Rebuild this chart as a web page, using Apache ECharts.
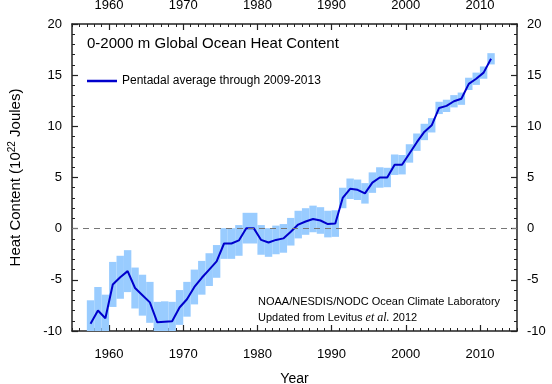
<!DOCTYPE html>
<html><head><meta charset="utf-8">
<script src="https://cdn.jsdelivr.net/npm/echarts@6/dist/echarts.min.js"></script>
<style>html,body{margin:0;padding:0;background:#fff}#c{width:552px;height:384px}</style>
</head><body><div id="c"></div>
<script>
var years = [1957.5,1958.5,1959.5,1960.5,1961.5,1962.5,1963.5,1964.5,1965.5,1966.5,1967.5,1968.5,1969.5,1970.5,1971.5,1972.5,1973.5,1974.5,1975.5,1976.5,1977.5,1978.5,1979.5,1980.5,1981.5,1982.5,1983.5,1984.5,1985.5,1986.5,1987.5,1988.5,1989.5,1990.5,1991.5,1992.5,1993.5,1994.5,1995.5,1996.5,1997.5,1998.5,1999.5,2000.5,2001.5,2002.5,2003.5,2004.5,2005.5,2006.5,2007.5,2008.5,2009.5,2010.5,2011.5];
var heat = [-9.3,-8.0,-8.75,-5.45,-4.75,-4.15,-5.8,-6.5,-7.2,-9.15,-9.1,-9.05,-7.7,-6.9,-5.7,-4.8,-4.0,-3.2,-1.45,-1.45,-1.15,0.05,0.05,-1.1,-1.35,-1.1,-0.95,-0.3,0.4,0.7,0.95,0.8,0.45,0.5,3.0,3.9,3.8,3.45,4.5,5.0,5.0,6.25,6.25,7.35,8.45,9.45,10.1,11.8,12.0,12.45,12.7,14.15,14.65,15.25,16.6];
var err = [2.3,2.3,2.3,2.2,2.1,2.05,2.0,2.0,2.0,2.0,2.0,1.9,1.7,1.7,1.7,1.65,1.6,1.6,1.5,1.5,1.5,1.5,1.5,1.45,1.4,1.4,1.4,1.35,1.35,1.3,1.3,1.3,1.3,1.3,1.0,1.0,1.0,1.0,1.0,1.0,0.95,1.0,0.95,0.9,0.85,0.8,0.7,0.6,0.6,0.6,0.6,0.6,0.6,0.6,0.55];
var xTicks = [1960,1970,1980,1990,2000,2010];
var yTicks = [-10,-5,0,5,10,15,20];
var titleText = '0-2000 m Global Ocean Heat Content';
var seriesName = 'Pentadal average through 2009-2013';

var FONT = '"Liberation Sans",Arial,Helvetica,sans-serif';
var AX = '#222';
var lineData = years.map(function(y,i){return [y, heat[i]];});
var boxData = years.map(function(y,i){return [y, heat[i], err[i]];});
var GRID = {left:72, right:35, top:24, bottom:53, containLabel:false, outerBoundsMode:'none'};

// main axes: minor ticks every unit, labels at the major values
function xMain(pos){
  return {type:'value', gridIndex:0, position:pos, min:1955, max:2015, interval:1,
    axisLine:{show:true, onZero:false, lineStyle:{color:AX, width:1.5}},
    axisTick:{show:true, inside:true, length:3, lineStyle:{color:AX, width:1}},
    minorTick:{show:false}, splitLine:{show:false},
    axisLabel:{show:true, customValues:xTicks, margin:pos==='bottom'?17:12, color:'#000', fontSize:13, fontFamily:FONT,
      formatter:function(v){return xTicks.indexOf(v)>=0?String(v):'';}},
    name: pos==='bottom'?'Year':'', nameLocation:'middle', nameGap:41,
    nameTextStyle:{color:'#000', fontSize:14, fontFamily:FONT}
  };
}
function yMain(pos){
  return {type:'value', gridIndex:0, position:pos, min:-10, max:20, interval:1,
    axisLine:{show:true, onZero:false, lineStyle:{color:AX, width:1.5}},
    axisTick:{show:true, inside:true, length:3, lineStyle:{color:AX, width:1}},
    minorTick:{show:false}, splitLine:{show:false},
    axisLabel:{show:true, customValues:yTicks, margin:10, color:'#000', fontSize:13, fontFamily:FONT,
      formatter:function(v){return yTicks.indexOf(v)>=0?String(v):'';}},
    name: pos==='left'?'Heat Content (10{sup|22} Joules)':'', nameLocation:'middle', nameGap:47,
    nameTextStyle:{color:'#000', fontSize:15, fontFamily:FONT,
      rich:{sup:{fontSize:10, verticalAlign:'bottom', padding:[0,0,8,0], fontFamily:FONT, color:'#000'}}}
  };
}
// overlay axes: longer major ticks only
function xMajor(pos){
  return {type:'value', gridIndex:1, position:pos, min:1955, max:2015,
    axisLine:{show:false, onZero:false}, axisLabel:{show:false}, splitLine:{show:false}, minorTick:{show:false},
    axisTick:{show:true, inside:true, length:6, customValues:xTicks, lineStyle:{color:AX, width:1.2}}};
}
function yMajor(pos){
  return {type:'value', gridIndex:1, position:pos, min:-10, max:20,
    axisLine:{show:false, onZero:false}, axisLabel:{show:false}, splitLine:{show:false}, minorTick:{show:false},
    axisTick:{show:true, inside:true, length:6, customValues:yTicks, lineStyle:{color:AX, width:1.2}}};
}

var chart = echarts.init(document.getElementById('c'), null, {renderer:'canvas'});
chart.setOption({
  animation:false,
  backgroundColor:'#fff',
  grid:[GRID, Object.assign({}, GRID)],
  title:{text:titleText, left:87, top:36, padding:0,
    textStyle:{fontSize:15, fontWeight:'normal', color:'#000', fontFamily:FONT}},
  legend:{data:[{name:seriesName, icon:'rect'}], left:87, top:75, padding:0, itemWidth:30, itemHeight:2.5, itemGap:6,
    textStyle:{fontSize:12, color:'#000', fontFamily:FONT}},
  xAxis:[xMain('bottom'), xMain('top'), xMajor('bottom'), xMajor('top')],
  yAxis:[yMain('left'), yMain('right'), yMajor('left'), yMajor('right')],
  graphic:[{type:'text', left:258, top:294, z:10, style:{
    text:'NOAA/NESDIS/NODC Ocean Climate Laboratory\n{n|Updated from Levitus }{i|et al.}{n| 2012}',
    fill:'#000', font:'11px '+FONT, lineHeight:16,
    rich:{n:{fontSize:11, fontFamily:FONT, fill:'#000', lineHeight:16}, i:{fontSize:12, fontStyle:'italic', fontFamily:'"Liberation Serif",serif', fill:'#000', lineHeight:16}}
  }}],
  series:[
    {type:'custom', name:'err', xAxisIndex:0, yAxisIndex:0, clip:true, silent:true,
      renderItem:function(params, api){
        var x = api.value(0), y = api.value(1), e = api.value(2);
        var p1 = api.coord([x-0.5, y+e]);
        var p2 = api.coord([x+0.5, y-e]);
        var r = echarts.graphic.clipRectByRect({x:p1[0], y:p1[1], width:p2[0]-p1[0], height:p2[1]-p1[1]},
          {x:params.coordSys.x, y:params.coordSys.y, width:params.coordSys.width, height:params.coordSys.height});
        if(!r) return null;
        return {type:'rect', shape:r, style:{fill:'#99ccff'}};
      },
      encode:{x:0, y:1}, data:boxData, z:1},
    {type:'line', name:seriesName, xAxisIndex:0, yAxisIndex:0, data:lineData, showSymbol:false, symbol:'none',
      lineStyle:{color:'#0000cc', width:2}, itemStyle:{color:'#0000cc'}, z:3,
      markLine:{silent:true, symbol:'none', label:{show:false},
        lineStyle:{color:'#777', type:[6,5], width:1}, data:[{yAxis:0}]}},
    {type:'line', name:'_a', xAxisIndex:1, yAxisIndex:1, data:[], silent:true, showSymbol:false},
    {type:'line', name:'_b', xAxisIndex:2, yAxisIndex:2, data:[], silent:true, showSymbol:false},
    {type:'line', name:'_c', xAxisIndex:3, yAxisIndex:3, data:[], silent:true, showSymbol:false}
  ]
});
</script></body></html>
